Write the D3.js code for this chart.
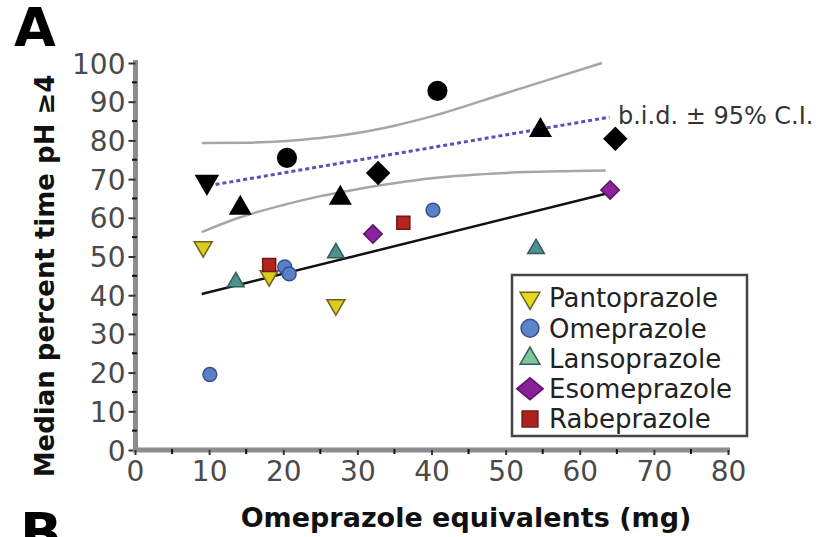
<!DOCTYPE html>
<html>
<head>
<meta charset="utf-8">
<script src="https://cdn.jsdelivr.net/npm/d3@7"></script>
<style>
  body { margin: 0; background: #fff; }
  svg { display: block; font-family: "DejaVu Sans", sans-serif; }
</style>
</head>
<body>
<svg id="chart"></svg>
<script>
// values: [dose mg omeprazole equiv, median % time pH >= 4]
var pantoQd = [[9.2, 52.5], [18.1, 45], [27.1, 37.5]]
var omeQd = [[10.1, 19.5], [20.2, 47.3], [20.8, 45.5], [40.2, 62]]
var lansoQd = [[13.6, 43.4], [27.1, 50.9], [54.1, 52]]
var esoQd = [[32.1, 55.8], [64.1, 67.2]]
var rabeQd = [[18.1, 47.8], [36.2, 58.7]]

// b.i.d. dosing (black markers)
var pantoBid = [[9.7, 69.3]]
var omeBid = [[20.5, 75.5], [40.8, 92.8]]
var lansoBid = [[14.2, 62.5], [27.7, 65.1], [54.7, 82.6]]
var esoBid = [[32.8, 71.6], [64.8, 80.4]]

// fitted lines
var qdFit = [[9, 40.3], [63.5, 66.2]]
var bidFit = [[9, 68], [64, 86]]
var ciUpper = [[9, 79.3], [15, 79.4], [20, 79.8], [25, 80.6], [30, 81.9], [35, 83.8], [40, 86.2], [50, 92.2], [63, 100]]
var ciLower = [[9, 56.3], [14, 60], [20, 63.3], [25, 65.6], [30, 67.4], [35, 68.9], [40, 70.2], [50, 71.6], [63.5, 72.2]]

var seriesNames = ["Pantoprazole", "Omeprazole", "Lansoprazole", "Esomeprazole", "Rabeprazole"]
var xTicks = [0, 10, 20, 30, 40, 50, 60, 70, 80]
var yTicks = [0, 10, 20, 30, 40, 50, 60, 70, 80, 90, 100]
var bidLabel = "b.i.d. \u00b1 95% C.I."

var width = 835,
    height = 537

var svg = d3.select("#chart").attr("width", width).attr("height", height)

var x = d3.scaleLinear().domain([0, 80]).range([135, 728])
var y = d3.scaleLinear().domain([0, 100]).range([450, 63])

// marker styles per drug
var styles = {
  Pantoprazole: { type: d3.symbolTriangle, rot: 180, fill: "#dccd1c", stroke: "#6e6420", size: 140, lsize: 170, lfill: "#e6d81c" },
  Omeprazole: { type: d3.symbolCircle, rot: 0, fill: "#5b80c6", stroke: "#35528f", size: 150, lsize: 250, lfill: "#5b84c9" },
  Lansoprazole: { type: d3.symbolTriangle, rot: 0, fill: "#4e918e", stroke: "#2f5d5b", size: 120, lsize: 170, lfill: "#7cc89a" },
  Esomeprazole: { type: d3.symbolSquare, rot: 45, fill: "#8b249c", stroke: "#5a1466", size: 170, lsize: 240, lfill: "#8a1f9a" },
  Rabeprazole: { type: d3.symbolSquare, rot: 0, fill: "#b3241f", stroke: "#6d1a16", size: 170, lsize: 250, lfill: "#b02020" }
}

// axes
var yAxis = d3.axisLeft(y).tickValues(yTicks).tickSize(7).tickPadding(3).tickSizeOuter(0)
var gy = svg.append("g").attr("transform", "translate(135.5,0)").call(yAxis)
var xAxis = d3.axisBottom(x).tickValues(xTicks).tickSize(5).tickPadding(6).tickSizeOuter(0)
var gx = svg.append("g").attr("transform", "translate(0,450)").call(xAxis)

// minor ticks at the 5s
svg.append("g").selectAll("line")
    .data(d3.range(5, 100, 10))
    .enter().append("line")
    .attr("x1", 132).attr("x2", 137)
    .attr("y1", function(d){ return y(d) }).attr("y2", function(d){ return y(d) })
    .style("stroke", "#111").style("stroke-width", 2)
svg.append("g").selectAll("line")
    .data(d3.range(5, 80, 10))
    .enter().append("line")
    .attr("y1", 449).attr("y2", 454)
    .attr("x1", function(d){ return x(d) }).attr("x2", function(d){ return x(d) })
    .style("stroke", "#111").style("stroke-width", 2)

;[gx, gy].forEach(function(g){
  g.select(".domain").style("stroke", "#8c8c8c").style("stroke-width", 5)
  g.selectAll(".tick line").style("stroke", "#333").style("stroke-width", 2)
  g.selectAll(".tick text")
    .style("font-family", "DejaVu Sans")
    .style("font-size", "28px")
    .style("fill", "#4a4a4a")
})
gy.select(".domain").attr("d", "M0,452V60")
gx.select(".domain").attr("d", "M133,0H730")
gy.selectAll(".tick text").attr("dy", "0.36em")

// fitted lines
var line = d3.line()
    .x(function(d){ return x(d[0]) })
    .y(function(d){ return y(d[1]) })
var curve = d3.line()
    .x(function(d){ return x(d[0]) })
    .y(function(d){ return y(d[1]) })
    .curve(d3.curveMonotoneX)

svg.append("path").datum(ciUpper).attr("d", curve)
    .style("fill", "none").style("stroke", "#a6a6a6").style("stroke-width", 2.5)
svg.append("path").datum(ciLower).attr("d", curve)
    .style("fill", "none").style("stroke", "#a6a6a6").style("stroke-width", 2.5)
svg.append("path").datum(bidFit).attr("d", line)
    .style("fill", "none").style("stroke", "#5c4fb8").style("stroke-width", 3)
    .style("stroke-dasharray", "4,3")
svg.append("path").datum(qdFit).attr("d", line)
    .style("fill", "none").style("stroke", "#111").style("stroke-width", 2.5)

// colored (once daily) markers
var qdData = [pantoQd, omeQd, lansoQd, esoQd, rabeQd]
seriesNames.forEach(function(name, i){
  var s = styles[name]
  svg.append("g").selectAll("path")
    .data(qdData[i])
    .enter().append("path")
    .attr("d", d3.symbol().type(s.type).size(s.size))
    .attr("transform", function(d){
      return "translate(" + x(d[0]) + "," + y(d[1]) + ") rotate(" + s.rot + ")"
    })
    .style("fill", s.fill)
    .style("stroke", s.stroke)
    .style("stroke-width", 1.5)
})

// black b.i.d. markers
var bidData = [pantoBid, omeBid, lansoBid, esoBid]
var bidSize = { Pantoprazole: 260, Omeprazole: 320, Lansoprazole: 230, Esomeprazole: 300 }
seriesNames.slice(0, 4).forEach(function(name, i){
  var s = styles[name]
  svg.append("g").selectAll("path")
    .data(bidData[i])
    .enter().append("path")
    .attr("d", d3.symbol().type(s.type).size(bidSize[name]))
    .attr("transform", function(d){
      return "translate(" + x(d[0]) + "," + y(d[1]) + ") rotate(" + s.rot + ")"
    })
    .style("fill", "#000")
})

// label for the b.i.d. fit
svg.append("text")
    .attr("x", 618).attr("y", 124)
    .style("font-size", "24px").style("fill", "#333")
    .text(bidLabel)

// legend
var legend = svg.append("g")
legend.append("rect")
    .attr("x", 512).attr("y", 275).attr("width", 235).attr("height", 161)
    .style("fill", "#fff").style("stroke", "#444").style("stroke-width", 2.5)
var itemY = d3.scalePoint().domain(seriesNames).range([298, 419])
var item = legend.selectAll(".item")
    .data(seriesNames)
    .enter().append("g")
    .attr("class", "item")
    .attr("transform", function(d){ return "translate(530," + itemY(d) + ")" })
item.append("path")
    .attr("d", function(d){ return d3.symbol().type(styles[d].type).size(styles[d].lsize)() })
    .attr("transform", function(d){
      var r = "rotate(" + styles[d].rot + ")"
      return d == "Esomeprazole" ? "scale(1.2,1) " + r : r
    })
    .style("fill", function(d){ return styles[d].lfill })
    .style("stroke", function(d){ return styles[d].stroke })
    .style("stroke-width", 1.5)
item.append("text")
    .attr("x", 19).attr("dy", "0.36em")
    .style("font-size", "26px").style("fill", "#222")
    .text(function(d){ return d })

// axis titles and panel letters
svg.append("text")
    .attr("x", 466).attr("y", 527)
    .attr("text-anchor", "middle")
    .style("font-size", "27px").style("font-weight", "bold").style("fill", "#111")
    .text("Omeprazole equivalents (mg)")
svg.append("text")
    .attr("transform", "translate(54,276) rotate(-90)")
    .attr("text-anchor", "middle")
    .style("font-size", "26px").style("font-weight", "bold").style("fill", "#111")
    .text("Median percent time pH \u22654")
svg.append("text")
    .attr("x", 14).attr("y", 46)
    .style("font-size", "54px").style("font-weight", "bold").style("fill", "#000")
    .text("A")
svg.append("text")
    .attr("x", 20).attr("y", 552)
    .style("font-size", "55px").style("font-weight", "bold").style("fill", "#000")
    .text("B")
</script>
</body>
</html>
